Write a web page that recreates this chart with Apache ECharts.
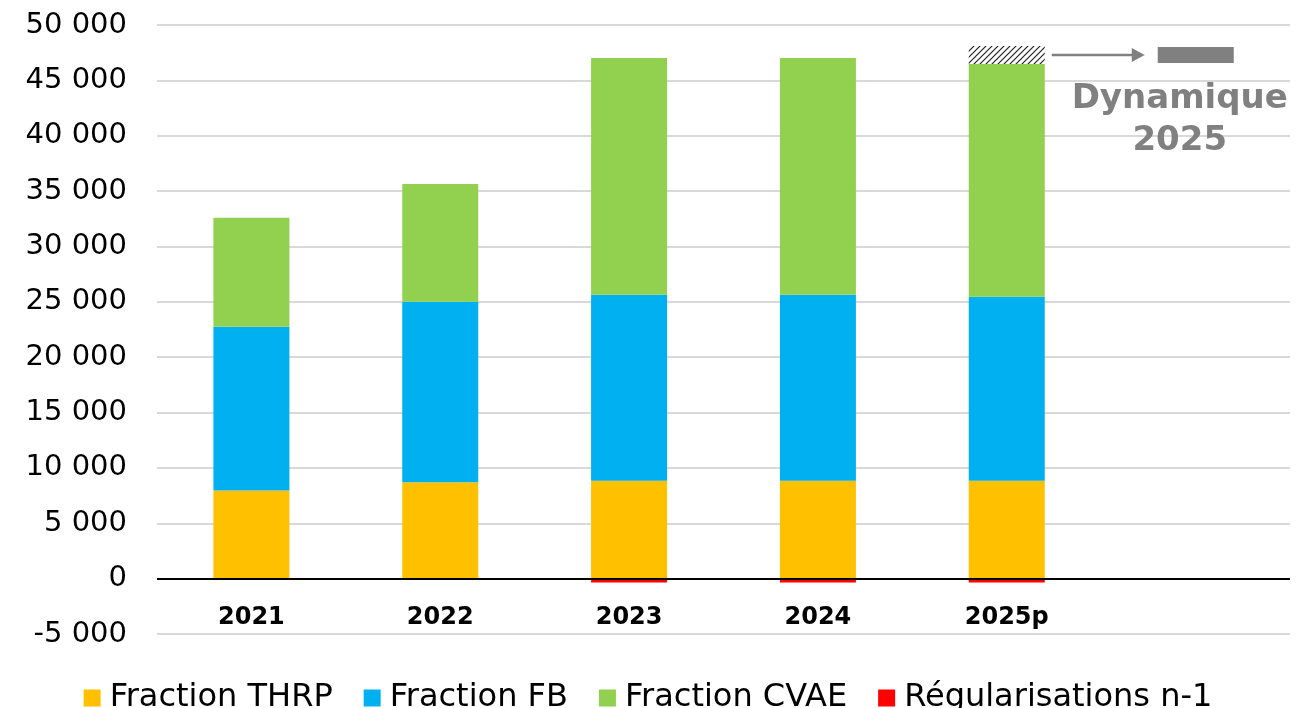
<!DOCTYPE html>
<html><head><meta charset="utf-8">
<script src="https://cdn.jsdelivr.net/npm/echarts@6/dist/echarts.min.js"></script>
<style>html,body{margin:0;padding:0;background:#fff}#c{width:1296px;height:708px}</style>
</head><body><div id="c"></div>
<script>
var categories = ['2021', '2022', '2023', '2024', '2025p', ''];
var thrp = [7950, 8700, 8850, 8850, 8850, null];
var fb = [14800, 16300, 16780, 16780, 16600, null];
var cvae = [9840, 10650, 21390, 21390, 21030, null];
var regul = [null, null, -350, -350, -350, null];
var dynamique = [null, null, null, null, 1620, null];
var yTicks = [-5000, 0, 5000, 10000, 15000, 20000, 25000, 30000, 35000, 40000, 45000, 50000];

var FONT = '"DejaVu Sans", sans-serif';
function fmt(v){ var s = Math.abs(v).toString().replace(/\B(?=(\d{3})+(?!\d))/g, ' '); return (v<0?'-':'')+s; }

var pc = document.createElement('canvas'); pc.width = 6; pc.height = 6;
var g = pc.getContext('2d'); g.fillStyle = '#fff'; g.fillRect(0,0,6,6);
g.strokeStyle = '#222'; g.lineWidth = 1.2;
g.beginPath(); g.moveTo(-1,7); g.lineTo(7,-1); g.moveTo(-1,1); g.lineTo(1,-1); g.moveTo(5,7); g.lineTo(7,5); g.stroke();

var chart = echarts.init(document.getElementById('c'));
var bw = 76;
chart.setOption({
  animation: false,
  grid: {left: 157, right: 6, top: 25, bottom: 74, containLabel: false},
  legend: {
    data: ['Fraction THRP', 'Fraction FB', 'Fraction CVAE', 'Régularisations n-1'],
    top: 677, left: 'center', itemWidth: 17, itemHeight: 17, itemGap: 31,
    icon: 'rect',
    textStyle: {fontFamily: FONT, fontSize: 32, color: '#000', padding: [0, 0, 0, 4]}
  },
  xAxis: {
    type: 'category', data: categories,
    axisLine: {onZero: false, show: false},
    axisTick: {show: false},
    axisLabel: {margin: -28, fontFamily: FONT, fontSize: 24, fontWeight: 'bold', color: '#000'}
  },
  yAxis: {
    type: 'value', min: yTicks[0], max: yTicks[yTicks.length-1], interval: 5000,
    axisLine: {show: false}, axisTick: {show: false},
    axisLabel: {margin: 30, fontFamily: FONT, fontSize: 29, color: '#000', formatter: fmt},
    splitLine: {lineStyle: {color: '#d9d9d9', width: 2}}
  },
  series: [
    {name: 'Fraction THRP', type: 'bar', stack: 's', data: thrp, barWidth: bw, itemStyle: {color: '#FFC000'},
      markLine: {silent: true, symbol: 'none', label: {show: false}, lineStyle: {color: '#000', width: 2, type: 'solid'}, data: [{yAxis: 0}], z: 10}},
    {name: 'Fraction FB', type: 'bar', stack: 's', data: fb, barWidth: bw, itemStyle: {color: '#00B0F0'}},
    {name: 'Fraction CVAE', type: 'bar', stack: 's', data: cvae, barWidth: bw, itemStyle: {color: '#92D050'}},
    {name: 'Dynamique', type: 'bar', stack: 's', data: dynamique, barWidth: bw, itemStyle: {color: {image: pc, repeat: 'repeat'}}},
    {name: 'Régularisations n-1', type: 'bar', stack: 's', data: regul, barWidth: bw, itemStyle: {color: '#FF0000'}}
  ]
});

// annotation positioned from the chart's scale
var idx = 4;
var mid = thrp[idx] + fb[idx] + cvae[idx] + dynamique[idx]/2;
var p = chart.convertToPixel({gridIndex: 0}, [idx, mid]);
var barRight = p[0] + bw/2;
var y = Math.round(p[1]);
var grey = '#808080';
chart.setOption({
  graphic: [
    {type: 'line', shape: {x1: barRight + 7, y1: y, x2: barRight + 90, y2: y}, style: {stroke: grey, lineWidth: 2.5}},
    {type: 'polygon', shape: {points: [[barRight + 87, y - 7], [barRight + 100, y], [barRight + 87, y + 7]]}, style: {fill: grey}},
    {type: 'rect', shape: {x: barRight + 113, y: y - 8, width: 76, height: 16}, style: {fill: grey}},
    {type: 'text', style: {text: 'Dynamique\n2025', x: barRight + 135, y: y + 23, align: 'center', verticalAlign: 'top',
      font: 'bold 34px ' + FONT, fill: grey, lineHeight: 42}}
  ]
});
</script></body></html>
